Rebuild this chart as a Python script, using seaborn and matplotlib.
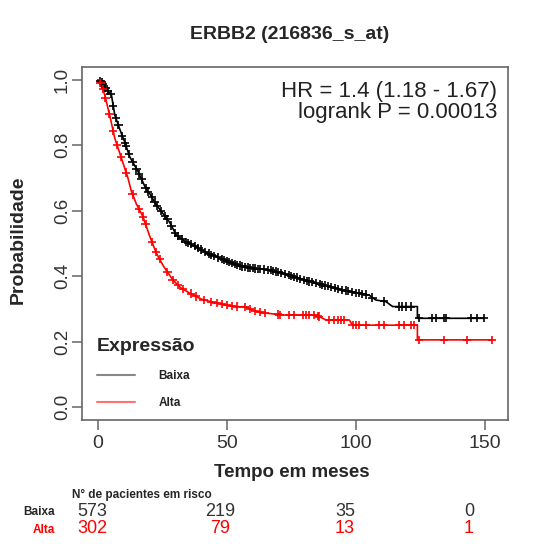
import numpy as np
import pandas as pd
import matplotlib
matplotlib.use('Agg')
import matplotlib.pyplot as plt
import seaborn as sns
from matplotlib.lines import Line2D

# ======================
# 数据
# ======================
baixa_t = [0, 1.4, 3, 5.3, 6.6, 8.5, 10.4, 12.4, 15.6, 18.8, 20.1, 22.5, 25.2, 27.8,
           30.4, 34, 38.1, 42, 47.2, 52, 56.2, 60, 66.5, 71.6, 78, 84.5, 91, 97.4,
           101, 105.1, 107.7, 111.6, 114.2, 123.8, 123.8, 149.6]
baixa_s = [1.0, 0.995, 0.975, 0.954, 0.893, 0.85, 0.811, 0.765, 0.72, 0.665, 0.653, 0.62,
           0.592, 0.565, 0.526, 0.505, 0.49, 0.472, 0.455, 0.44, 0.429, 0.424, 0.419,
           0.409, 0.393, 0.378, 0.365, 0.353, 0.348, 0.342, 0.327, 0.322, 0.307, 0.307,
           0.271, 0.271]

alta_t = [0, 1.5, 2.7, 4.6, 6.6, 9.2, 11.7, 13, 15, 17.5, 20, 22.7, 25.5, 29.1, 32,
          35.6, 40, 45.9, 52, 57.5, 61, 64, 71.6, 84.5, 88.4, 97.4, 98.7, 123.8, 123.8,
          152.8]
alta_s = [1.0, 0.985, 0.954, 0.893, 0.822, 0.76, 0.70, 0.66, 0.62, 0.582, 0.525, 0.47,
          0.43, 0.388, 0.365, 0.348, 0.33, 0.317, 0.308, 0.305, 0.293, 0.288, 0.281,
          0.281, 0.266, 0.266, 0.25, 0.25, 0.205, 0.205]

# 删失时间 (+ 标记)
baixa_censor = [1, 1.5, 2, 2.5, 3, 4, 5, 6, 7, 8, 9.5, 10.5, 11, 12, 13.5, 15, 16, 17,
                18.5, 19.5, 21, 22, 23, 24.5, 26, 27, 28.5, 30, 31, 32.5, 34, 35, 36,
                37.5, 39, 40, 41.5, 43, 44, 45, 46.5, 48, 49, 50, 51, 52, 53, 54, 55,
                56, 57, 58, 59, 60, 61, 62, 63, 64.5, 66, 67, 68, 69, 70, 71, 72.5, 74,
                75, 76, 77, 78.5, 80, 81, 82, 83, 84.5, 86, 87, 88, 89, 90.5, 92, 93,
                94.5, 96, 97, 98.5, 100, 101, 102.5, 104, 106.4, 110.9, 116.7, 118,
                119.3, 121.2, 124.5, 129.6, 130.9, 134.1, 134.8, 144.5, 147, 149.6]
alta_censor = [1, 2, 3, 4.5, 6, 7.5, 9, 11, 13.5, 16, 17.5, 18.5, 21, 22.5, 24, 27, 29,
               31, 33, 36, 38, 41, 44, 46, 48, 50, 52, 54, 57, 59, 61, 63, 64.6, 69.7,
               70.4, 74.2, 76.2, 79.4, 80.7, 82, 83.9, 85.2, 85.8, 89.7, 91.6, 92.9,
               94.2, 95.5, 98.7, 100, 101.3, 103.9, 109, 110.9, 116.7, 118.7, 121.2,
               122.5, 124.5, 134.1, 143.1, 152.8]

risk_times = [0, 50, 100, 150]
risk_baixa = [573, 219, 35, 0]
risk_alta = [302, 79, 13, 1]

hr_text = "HR = 1.4 (1.18 - 1.67)"
p_text = "logrank P = 0.00013"
title = "ERBB2 (216836_s_at)"


def curve_at(times, t, s):
    """取曲线在删失时间上的值"""
    t = np.asarray(t)
    s = np.asarray(s)
    out = []
    for x in times:
        idx = np.where(t <= x)[0][-1]
        if idx + 1 < len(t) and t[idx + 1] > t[idx]:
            frac = (x - t[idx]) / (t[idx + 1] - t[idx])
            out.append(s[idx] + frac * (s[idx + 1] - s[idx]))
        else:
            out.append(s[idx])
    return out


sns.set_style('ticks')
plt.rcParams['font.family'] = ['Liberation Sans', 'DejaVu Sans']

fig = plt.figure(figsize=(5.42, 5.44), dpi=100)
ax = fig.add_axes([0.1513, 0.228, 0.786, 0.649])

curves = pd.concat([
    pd.DataFrame({'tempo': baixa_t, 'prob': baixa_s, 'grupo': 'Baixa'}),
    pd.DataFrame({'tempo': alta_t, 'prob': alta_s, 'grupo': 'Alta'}),
], ignore_index=True)
censors = pd.concat([
    pd.DataFrame({'tempo': baixa_censor, 'prob': curve_at(baixa_censor, baixa_t, baixa_s), 'grupo': 'Baixa'}),
    pd.DataFrame({'tempo': alta_censor, 'prob': curve_at(alta_censor, alta_t, alta_s), 'grupo': 'Alta'}),
], ignore_index=True)

palette = {'Baixa': 'black', 'Alta': '#ff0000'}

sns.lineplot(data=curves, x='tempo', y='prob', hue='grupo',
             estimator=None, sort=False, palette=palette, linewidth=1.2,
             legend=False, ax=ax)
sns.scatterplot(data=censors, x='tempo', y='prob', hue='grupo', palette=palette,
                marker='+', s=36, linewidth=1.2, legend=False, ax=ax, zorder=3)

ax.set_xlim(-6.1, 158.9)
ax.set_ylim(-0.04, 1.04)
ax.set_xticks([0, 50, 100, 150])
ax.set_yticks([0, 0.2, 0.4, 0.6, 0.8, 1.0])
ax.set_yticklabels(['0.0', '0.2', '0.4', '0.6', '0.8', '1.0'])
ax.set_xlabel('')
ax.set_ylabel('')
for sp in ax.spines.values():
    sp.set_visible(True)
    sp.set_color('#666666')
    sp.set_linewidth(1.2)
ax.tick_params(axis='both', length=7, width=1.1, color='#666666',
               labelsize=14, labelcolor='#333333', pad=4)
ax.tick_params(axis='y', labelrotation=90, labelsize=13.5, pad=1)
for lab in ax.get_yticklabels():
    lab.set_va('center')

# HR / logrank
ax.text(0.975, 0.96, hr_text, transform=ax.transAxes, ha='right', va='top',
        fontsize=16, color='#222222')
ax.text(0.975, 0.90, p_text, transform=ax.transAxes, ha='right', va='top',
        fontsize=16, color='#222222')

# 图例
handles = [Line2D([0], [0], color='#888888', lw=1.5),
           Line2D([0], [0], color='#ff7070', lw=1.5)]
leg = ax.legend(handles, ['Baixa', 'Alta'], title='Expressão', loc='lower left',
                bbox_to_anchor=(0.01, 0.0), frameon=False, fontsize=8.5,
                handlelength=3.2, handletextpad=2.0, labelspacing=1.3,
                alignment='left',
                title_fontproperties={'weight': 'bold', 'size': 14})
for t in leg.get_texts():
    t.set_fontweight('bold')
    t.set_color('#222222')

# 标题和坐标轴标签
fig.text(0.535, 0.936, title, ha='center', va='center', fontsize=14, fontweight='bold')
fig.text(0.033, 0.559, 'Probabilidade', ha='center', va='center', rotation=90,
         fontsize=14, fontweight='bold')
fig.text(0.539, 0.132, 'Tempo em meses', ha='center', va='center', fontsize=13.5,
         fontweight='bold')

# 风险表
fig.text(0.133, 0.090, 'N° de pacientes em risco', ha='left', va='center',
         fontsize=8.5, fontweight='bold')
fig.text(0.102, 0.059, 'Baixa', ha='right', va='center', fontsize=8.5, fontweight='bold')
fig.text(0.102, 0.026, 'Alta', ha='right', va='center', fontsize=8.5, fontweight='bold',
         color='#ff0000')
col_x = [92, 220, 345, 469]  # 表格列位置 (像素)
for x, nb, na in zip(col_x, risk_baixa, risk_alta):
    fig.text(x / 542, 0.059, str(nb), ha='center', va='center', fontsize=13, color='#333333')
    fig.text(x / 542, 0.028, str(na), ha='center', va='center', fontsize=13, color='#ff0000')

fig.savefig('out.png', dpi=100, facecolor='white')
